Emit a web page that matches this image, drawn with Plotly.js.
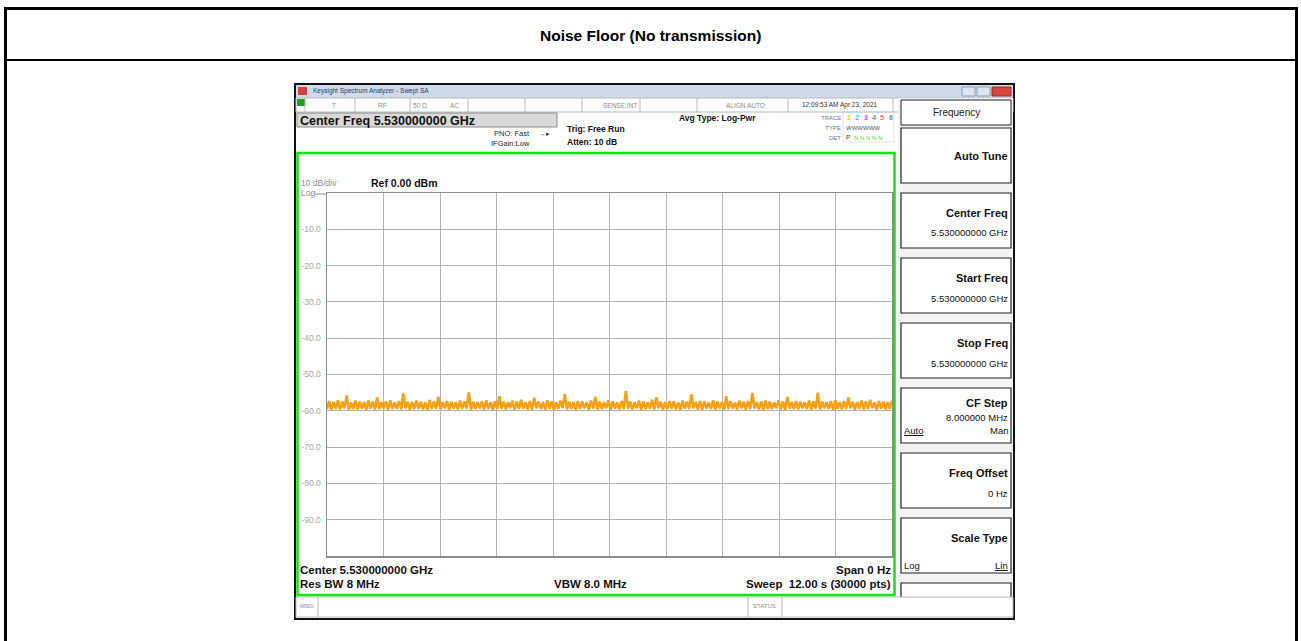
<!DOCTYPE html>
<html><head><meta charset="utf-8">
<script src="https://cdn.plot.ly/plotly-3.0.1.min.js"></script>
<style>html,body{margin:0;padding:0;background:#fff;overflow:hidden}#chart{width:1301px;height:641px}</style>
</head><body><div id="chart"></div>
<script>
// ---------------- data ----------------
const chartTitle = 'Noise Floor (No transmission)';
const sweepRangeS = [0, 12];
const levelRangeDbm = [-100, 0];
const yTickValues = [-10, -20, -30, -40, -50, -60, -70, -80, -90];
const yTickLabels = ['-10.0', '-20.0', '-30.0', '-40.0', '-50.0', '-60.0', '-70.0', '-80.0', '-90.0'];
const noiseDbm = [
-59.5,-57.3,-59.7,-57.6,-59.4,-57.1,-59.6,-57.5,-59.3,-55.8,-59.7,-57.7,-59.5,-57.2,-59.6,-57.5,-59.4,-57.6,-59.7,-57.2,
-59.4,-57.5,-59.6,-56.3,-59.5,-57.6,-59.3,-57.4,-59.7,-57.1,-59.5,-57.7,-59.4,-57.3,-59.6,-55.2,-59.3,-57.5,-59.7,-57.6,
-59.5,-57.2,-59.4,-57.5,-59.6,-57.7,-59.7,-57.0,-59.4,-57.4,-59.5,-56.1,-59.6,-57.6,-59.3,-57.3,-59.7,-57.5,-59.4,-57.7,
-59.6,-57.2,-59.5,-57.4,-59.4,-54.9,-59.7,-57.5,-59.5,-57.6,-59.3,-57.3,-59.6,-57.1,-59.4,-57.7,-59.7,-57.4,-59.5,-56.0,
-59.4,-57.5,-59.6,-57.6,-59.3,-57.2,-59.7,-57.4,-59.5,-57.0,-59.4,-57.7,-59.6,-57.3,-59.7,-56.4,-59.3,-57.5,-59.5,-57.6,
-59.6,-57.1,-59.4,-57.4,-59.7,-57.7,-59.5,-57.2,-59.3,-55.4,-59.6,-57.5,-59.4,-57.6,-59.7,-57.3,-59.5,-57.4,-59.3,-57.7,
-59.7,-57.2,-59.4,-56.2,-59.6,-57.5,-59.5,-57.6,-59.3,-57.1,-59.7,-57.4,-59.4,-57.7,-59.6,-57.3,-59.5,-54.6,-59.4,-57.5,
-59.6,-57.6,-59.3,-57.2,-59.7,-57.4,-59.5,-57.7,-59.4,-57.0,-59.6,-56.3,-59.3,-57.5,-59.7,-57.6,-59.5,-57.3,-59.4,-57.4,
-59.6,-57.7,-59.7,-57.2,-59.4,-57.5,-59.5,-55.5,-59.3,-57.6,-59.6,-57.3,-59.7,-57.4,-59.4,-57.7,-59.5,-57.1,-59.6,-57.5,
-59.3,-57.6,-59.7,-56.0,-59.5,-57.4,-59.4,-57.7,-59.6,-57.2,-59.3,-57.5,-59.7,-57.3,-59.5,-55.1,-59.4,-57.6,-59.6,-57.4,
-59.7,-57.2,-59.4,-57.5,-59.5,-57.7,-59.3,-57.1,-59.6,-57.4,-59.7,-56.2,-59.4,-57.6,-59.5,-57.3,-59.6,-57.5,-59.3,-57.7,
-59.5,-57.2,-59.7,-57.4,-59.4,-55.0,-59.6,-57.5,-59.3,-57.6,-59.5,-57.3,-59.7,-57.1,-59.4,-57.7,-59.6,-57.4,-59.5,-56.3,
-59.3,-57.5,-59.7,-57.6,-59.4,-57.2,-59.6,-57.4,-59.5,-57.0,-59.3,-57.7,-59.7,-57.3,-59.4,-57.5,-59.6,-57.6,-59.5,-57.2
];
const softkeyTitles = ['Auto Tune', 'Center Freq', 'Start Freq', 'Stop Freq', 'CF Step', 'Freq Offset', 'Scale Type'];
const softkeyValues = ['', '5.530000000 GHz', '5.530000000 GHz', '5.530000000 GHz', '8.000000 MHz', '0 Hz', ''];
const softkeyOptions = [null, null, null, null, ['Auto', 'Man'], null, ['Log', 'Lin']];
const statusCells = ['T', 'RF', '50 \u03A9', 'AC', 'SENSE:INT', 'ALIGN AUTO', '12:09:53 AM Apr 23, 2021'];

// ---------------- helpers ----------------
const W = 1301, H = 641;
const FONT = 'Liberation Sans, Arial, sans-serif';
const px = x => x / W, py = y => 1 - y / H;
const ann = [], shp = [];
function txt(text, x, y, size, color, xa, extra) {
  ann.push(Object.assign({xref: 'paper', yref: 'paper', x: px(x), y: py(y), xanchor: xa || 'left', yanchor: 'middle',
    text: text, showarrow: false, borderpad: 0, font: {family: FONT, size: size, color: color || '#000'}}, extra || {}));
}
function rect(x0, y0, x1, y1, fill, lc, lw) {
  shp.push({type: 'rect', xref: 'paper', yref: 'paper', x0: px(x0), x1: px(x1), y0: py(y0), y1: py(y1),
    fillcolor: fill || 'rgba(0,0,0,0)', line: {color: lc || 'rgba(0,0,0,0)', width: lw || 0}, layer: 'above'});
}
function seg(x0, y0, x1, y1, c, w) {
  shp.push({type: 'line', xref: 'paper', yref: 'paper', x0: px(x0), x1: px(x1), y0: py(y0), y1: py(y1),
    line: {color: c, width: w}, layer: 'above'});
}

// ---------------- outer document frame ----------------
seg(4, 8.5, 1298, 8.5, '#000', 3);
seg(5.5, 7, 5.5, 641, '#000', 3);
seg(1296.5, 7, 1296.5, 641, '#000', 3);
seg(5, 60, 1297, 60, '#000', 2);
txt('<b>' + chartTitle + '</b>', 650, 35.5, 15.5, '#000', 'center');

// ---------------- analyzer screenshot ----------------
rect(295, 84, 1014, 619, null, '#111', 2);
rect(296, 85, 1013, 98, '#cfdbea', null, 0);
rect(298, 87, 307, 95, '#c44', null, 0);
txt('Keysight Spectrum Analyzer - Swept SA', 312, 91.5, 6.5, '#1e3a6e');
rect(962, 87, 975, 96, '#dfe6ef', '#8a9bb3', 1);
rect(977, 87, 990, 96, '#dfe6ef', '#8a9bb3', 1);
rect(992, 87, 1011, 96, '#d9463b', '#9a2a22', 1);
// status row
rect(296, 98, 1013, 112, '#ffffff', '#b8b8b8', 1);
rect(297, 99, 305, 106, '#1ca31c', null, 0);
[305, 355, 410, 468, 525, 582, 640, 697, 788, 893].forEach(x => seg(x, 98, x, 112, '#b8b8b8', 1));
const statusX = [334, 383, 420, 454, 620, 745, 840];
statusCells.forEach((s, i) => txt(s, statusX[i], 105, 6.5, i === 6 ? '#333' : '#8a8a8a', 'center'));
// center freq box
rect(297, 113, 557, 127, '#d9d9d9', '#8a8a8a', 1);
txt('<b>Center Freq 5.530000000 GHz</b>', 299, 120.5, 12.5, '#111');
txt('PNO: Fast', 531, 133, 7.5, '#222', 'right');
txt('\u2192\u25B8', 544, 133, 6.5, '#333', 'center');
txt('IFGain:Low', 531, 143.5, 7.5, '#222', 'right');
txt('<b>Trig: Free Run</b>', 566, 129, 8.5, '#111');
txt('<b>Atten: 10 dB</b>', 566, 142, 8.5, '#111');
txt('<b>Avg Type: Log-Pwr</b>', 678, 118, 8.5, '#111');
txt('TRACE', 842, 117.5, 6, '#777', 'right');
txt('TYPE', 842, 127.5, 6, '#777', 'right');
txt('DET', 842, 137.5, 6, '#777', 'right');
const traceColors = ['#e3e300', '#19c8f0', '#e03ce0', '#27b58a', '#f0607a', '#6c6cf0'];
traceColors.forEach((c, i) => txt('<b>' + (i + 1) + '</b>', 849 + i * 8.3, 117.5, 7, c, 'center'));
txt('WWWWWW', 845, 127.5, 6, '#555');
txt('P', 845, 137.5, 6.5, '#333');
txt('N N N N N', 853, 137.5, 6, '#3ad13a');
rect(843, 112, 894, 142, null, '#cccccc', 0.6);

// softkey panel
rect(898, 98, 1013, 617, '#f3f3f3', null, 0);
rect(901, 100, 1011, 125, '#ffffff', '#222', 1);
txt('Frequency', 956, 113, 10, '#222', 'center');
softkeyTitles.forEach((t, i) => {
  const top = 128 + i * 65, bot = top + 55;
  rect(901, top, 1011, bot, '#ffffff', '#222', 1.2);
  if (i === 0) { txt('<b>' + t + '</b>', 1009, top + 28, 11, '#111', 'right'); return; }
  if (softkeyOptions[i] && softkeyValues[i]) {
    txt('<b>' + t + '</b>', 1009, top + 15, 11, '#111', 'right');
    txt(softkeyValues[i], 1009, top + 29, 9.5, '#111', 'right');
    txt('<u>' + softkeyOptions[i][0] + '</u>', 903, top + 43, 9.5, '#111', 'left');
    txt(softkeyOptions[i][1], 1009, top + 43, 9.5, '#111', 'right');
    return;
  }
  txt('<b>' + t + '</b>', 1009, top + 20, 11, '#111', 'right');
  if (softkeyValues[i]) txt(softkeyValues[i], 1009, top + 40, 9.5, '#111', 'right');
  if (softkeyOptions[i]) {
    txt(softkeyOptions[i][0], 903, top + 47, 9.5, '#111', 'left');
    txt('<u>' + softkeyOptions[i][1] + '</u>', 1009, top + 47, 9.5, '#111', 'right');
  }
});
rect(901, 583, 1011, 610, '#ffffff', '#222', 1.2);

// bottom status bar
rect(296, 597, 1013, 617, '#ffffff', '#b8b8b8', 1);
seg(318, 597, 318, 617, '#b8b8b8', 1);
seg(748, 597, 748, 617, '#b8b8b8', 1);
seg(782, 597, 782, 617, '#b8b8b8', 1);
txt('MSG', 299, 606, 6, '#888');
txt('STATUS', 765, 606, 6, '#888', 'center');

// green measurement frame
rect(297.5, 153, 894.5, 595, null, '#11e611', 2.5);
txt('10 dB/div', 300, 183, 8.5, '#8a8a8a');
txt('Log', 300, 192.5, 8.5, '#8a8a8a');
seg(315, 194, 327, 194, '#8a8a8a', 1);
txt('<b>Ref 0.00 dBm</b>', 370, 183, 10.5, '#111');
txt('<b>Center 5.530000000 GHz</b>', 299, 570, 11.5, '#111');
txt('<b>Res BW 8 MHz</b>', 299, 584, 11.5, '#111');
txt('<b>VBW 8.0 MHz</b>', 590, 584, 11.5, '#111', 'center');
txt('<b>Span 0 Hz</b>', 892, 570, 11.5, '#111', 'right');
txt('<b>Sweep&nbsp;&nbsp;12.00 s (30000 pts)</b>', 892, 584, 11.5, '#111', 'right');

// ---------------- trace ----------------
const trace = {
  type: 'scatter', mode: 'lines', y: noiseDbm, x0: sweepRangeS[0], dx: (sweepRangeS[1] - sweepRangeS[0]) / (noiseDbm.length - 1),
  line: {color: '#f7a116', width: 2.6}, hoverinfo: 'skip', showlegend: false
};

const layout = {
  width: W, height: H, autosize: false,
  margin: {l: 0, r: 0, t: 0, b: 0, pad: 0},
  paper_bgcolor: '#ffffff', plot_bgcolor: '#ffffff',
  showlegend: false,
  xaxis: {domain: [px(327), px(892)], range: sweepRangeS, dtick: 1.2, tick0: 0, showticklabels: false,
    showgrid: true, gridcolor: '#b3b3b3', gridwidth: 1, zeroline: false, showline: true, linecolor: '#8c8c8c', linewidth: 1.5, mirror: true, ticks: ''},
  yaxis: {domain: [py(556), py(193)], range: levelRangeDbm, tickvals: yTickValues, ticktext: yTickLabels,
    tickfont: {family: FONT, size: 8.5, color: '#a5a5a5'}, ticks: '', ticklabelstandoff: 3,
    showgrid: true, gridcolor: '#b3b3b3', gridwidth: 1, zeroline: false, showline: true, linecolor: '#8c8c8c', linewidth: 1.5, mirror: true},
  shapes: shp, annotations: ann
};
Plotly.newPlot('chart', [trace], layout, {staticPlot: true, displayModeBar: false});
</script></body></html>
